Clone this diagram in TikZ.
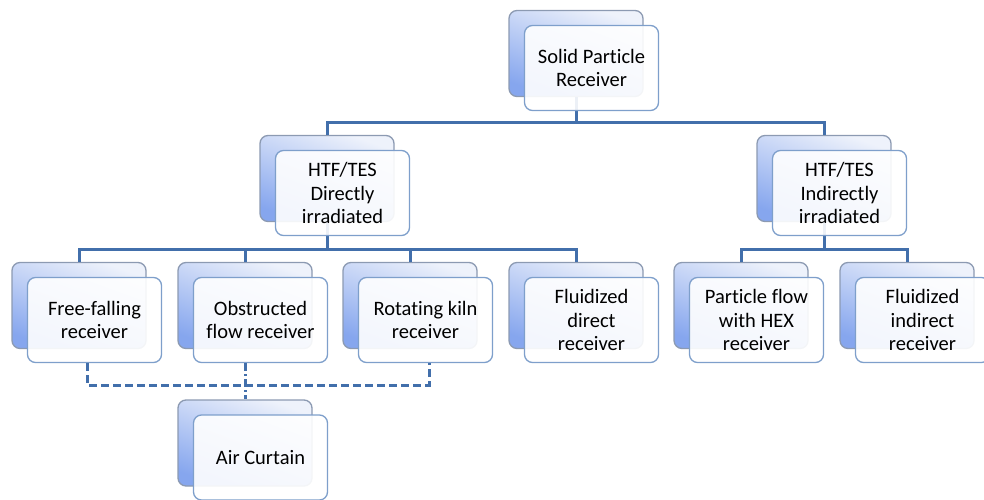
\documentclass[tikz,border=0pt]{standalone}
\usepackage{fontspec}
\setmainfont{Carlito}[Ligatures=NoCommon]
\usetikzlibrary{calc}

\definecolor{linkblue}{HTML}{426FAB}
\definecolor{backedge}{HTML}{8C9AB2}
\definecolor{backtop}{HTML}{EEF2FB}
\definecolor{backbot}{HTML}{86A6EE}
\definecolor{frontedge}{HTML}{7E9FCB}

\tikzset{
  backbox/.style={draw=backedge, line width=1.3pt, rounded corners=8pt,
    top color=backtop, bottom color=backbot, shading angle=-20,
    minimum width=134pt, minimum height=86pt, inner sep=0pt},
  frontbox/.style={draw=frontedge, line width=1.3pt, rounded corners=8pt,
    fill=white, fill opacity=0.9, text opacity=1,
    minimum width=134pt, minimum height=85pt, inner sep=0pt, align=center,
    font=\fontsize{20.5}{23.5}\selectfont},
  conn/.style={draw=linkblue, line width=3pt},
  dashconn/.style={draw=linkblue, line width=3pt, dash pattern=on 8pt off 4pt},
  dotconn/.style={draw=linkblue, line width=3pt, dash pattern=on 8pt off 3pt on 2pt off 3pt}
}

\begin{document}
\begin{tikzpicture}[x=1pt, y=-1pt]
\useasboundingbox (0,0) rectangle (984,500);
\clip (0,0) rectangle (984,500);

\node[backbox] (spr-b) at (576,53.5) {};
\node[backbox] (dir-b) at (327,178.5) {};
\node[backbox] (ind-b) at (824,178.5) {};
\node[backbox] (ff-b) at (79,305.5) {};
\node[backbox] (ob-b) at (245,305.5) {};
\node[backbox] (rk-b) at (410,305.5) {};
\node[backbox] (fd-b) at (576,305.5) {};
\node[backbox] (hex-b) at (741,305.5) {};
\node[backbox] (fi-b) at (907,305.5) {};
\node[backbox] (ac-b) at (245,443) {};

\draw[conn] (spr-b.south) -- (spr-b.south |- 0,122) -| (dir-b.north);
\draw[conn] (spr-b.south |- 0,122) -| (ind-b.north);

\draw[conn] (dir-b.south) -- (dir-b.south |- 0,249) -| (ff-b.north);
\draw[conn] (ff-b.north |- 0,249) -| (ob-b.north);
\draw[conn] (ff-b.north |- 0,249) -| (rk-b.north);
\draw[conn] (ff-b.north |- 0,249) -| (fd-b.north);

\draw[conn] (ind-b.south) -- (ind-b.south |- 0,249) -| (hex-b.north);
\draw[conn] (ind-b.south |- 0,249) -| (fi-b.north);

\node[frontbox] (spr) at ($(spr-b)+(15.5,14.5)$) {Solid Particle\\Receiver};
\node[frontbox] (dir) at ($(dir-b)+(15.5,14.5)$) {HTF/TES\\Directly\\irradiated};
\node[frontbox] (ind) at ($(ind-b)+(15.5,14.5)$) {HTF/TES\\Indirectly\\irradiated};
\node[frontbox] (ff) at ($(ff-b)+(15.5,14.5)$) {Free-falling\\receiver};
\node[frontbox] (ob) at ($(ob-b)+(15.5,14.5)$) {Obstructed\\flow receiver};
\node[frontbox] (rk) at ($(rk-b)+(15.5,14.5)$) {Rotating kiln\\receiver};
\node[frontbox] (fd) at ($(fd-b)+(15.5,14.5)$) {Fluidized\\direct\\receiver};
\node[frontbox] (hex) at ($(hex-b)+(15.5,14.5)$) {Particle flow\\with HEX\\receiver};
\node[frontbox] (fi) at ($(fi-b)+(15.5,14.5)$) {Fluidized\\indirect\\receiver};
\node[frontbox] (ac) at ($(ac-b)+(15.5,14.5)$) {Air Curtain};

\draw[dashconn] ($(ff.south)+(-7.5,0)$) -- ++(0,22) -| ($(rk.south)+(3.5,0)$);
\draw[dotconn] (ob-b.south |- ob.south) -- (ac-b.north);

\end{tikzpicture}
\end{document}
